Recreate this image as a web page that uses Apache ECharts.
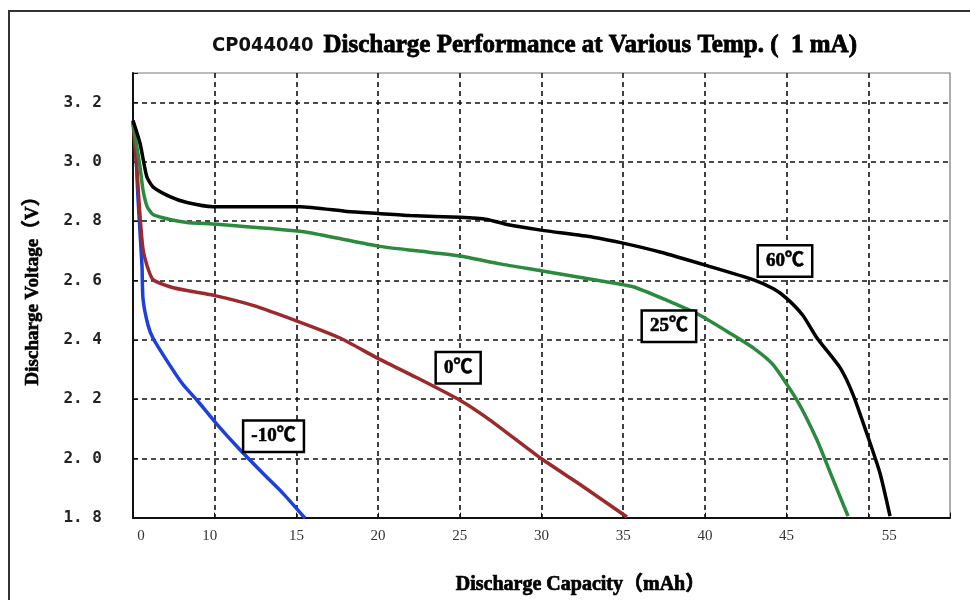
<!DOCTYPE html>
<html>
<head>
<meta charset="utf-8">
<script src="https://cdn.jsdelivr.net/npm/echarts@6/dist/echarts.min.js"></script>
<style>
html,body{margin:0;padding:0;background:#fff;}
#chart{width:970px;height:600px;}
</style>
</head>
<body>
<div id="chart"></div>
<script>
// ---- data ----
const yTicks = [1.8, 2.0, 2.2, 2.4, 2.6, 2.8, 3.0, 3.2];
const xTickText = {5: '0', 10: '10', 15: '15', 20: '20', 25: '25', 30: '30', 35: '35', 40: '40', 45: '45', 50: '55'};

const names = ['60℃', '25℃', '0℃', '-10℃'];

const cap60  = [5.0, 5.43, 5.84, 6.22, 7.26, 8.30, 9.90, 15.22, 18.10, 20.0, 21.95, 25.01, 26.66, 27.89, 29.97, 33.15, 34.99, 37.25, 40.13, 42.94, 44.2, 45.02, 46.0, 46.86, 48.27, 49.06, 49.92, 50.72, 51.33];
const volt60 = [3.14, 3.063, 2.951, 2.916, 2.883, 2.863, 2.849, 2.849, 2.833, 2.826, 2.819, 2.813, 2.806, 2.789, 2.770, 2.746, 2.726, 2.696, 2.650, 2.603, 2.572, 2.539, 2.482, 2.406, 2.306, 2.216, 2.082, 1.949, 1.805];

const cap25  = [5.0, 5.43, 5.61, 5.86, 6.22, 7.26, 8.30, 10.14, 15.22, 17.24, 19.99, 22.38, 25.01, 27.46, 29.97, 33.58, 35.60, 37.68, 39.70, 41.72, 43.0, 44.17, 45.64, 46.86, 47.84, 48.76];
const volt25 = [3.133, 2.983, 2.906, 2.850, 2.823, 2.806, 2.796, 2.790, 2.766, 2.746, 2.716, 2.700, 2.683, 2.656, 2.633, 2.599, 2.579, 2.533, 2.483, 2.416, 2.371, 2.316, 2.196, 2.062, 1.929, 1.805];

const cap0   = [5.0, 5.24, 5.43, 5.61, 5.86, 6.22, 7.26, 8.30, 10.02, 12.34, 15.04, 17.67, 19.93, 22.38, 25.01, 26.85, 29.91, 32.36, 35.23];
const volt0  = [3.133, 2.973, 2.816, 2.706, 2.650, 2.603, 2.579, 2.566, 2.549, 2.516, 2.463, 2.406, 2.339, 2.272, 2.196, 2.129, 2.002, 1.912, 1.802];

const capM10  = [5.0, 5.12, 5.31, 5.55, 5.61, 5.92, 6.22, 7.08, 8.06, 8.92, 10.14, 11.55, 12.96, 14.18, 15.53];
const voltM10 = [3.140, 3.097, 2.873, 2.650, 2.539, 2.449, 2.406, 2.329, 2.249, 2.196, 2.115, 2.029, 1.949, 1.882, 1.798];

// label box anchor points, in data units [capacity, voltage]
const labelPos = [[44.9, 2.666], [37.8, 2.446], [24.9, 2.306], [13.6, 2.075]];

const colors = ['#000000', '#2b8a3e', '#9c2a2c', '#1c3fe0'];

// ---- chart ----
const zip = (a, b) => a.map((v, i) => [v, b[i]]);
const seriesData = [zip(cap60, volt60), zip(cap25, volt25), zip(cap0, volt0), zip(capM10, voltM10)];

const heavySerif = '"Liberation Serif", "Times New Roman", "Noto Sans CJK SC", serif';

const chart = echarts.init(document.getElementById('chart'), null, {renderer: 'canvas'});

const series = seriesData.map((d, i) => ({
  name: names[i],
  type: 'line',
  data: d,
  showSymbol: false,
  smooth: 0.2,
  lineStyle: {color: colors[i], width: 3.5},
  itemStyle: {color: colors[i]},
  z: 5 - i,
  markPoint: {
    symbol: 'circle',
    symbolSize: 1,
    silent: true,
    itemStyle: {color: 'rgba(0,0,0,0)'},
    data: [{coord: labelPos[i], value: names[i]}],
    label: {
      show: true,
      position: 'inside',
      formatter: names[i],
      color: '#000',
      fontFamily: heavySerif,
      fontWeight: 'bold',
      fontSize: 19,
      textBorderColor: '#000',
      textBorderWidth: 0.6,
      backgroundColor: '#fff',
      borderColor: '#000',
      borderWidth: 2.5,
      padding: [6, 7, 4, 7]
    }
  }
}));

const option = {
  backgroundColor: '#fff',
  animation: false,
  title: {
    left: 207,
    top: 28,
    text: '{a|CP044040}  {b|Discharge Performance at Various Temp. (  1 mA)}',
    textStyle: {
      rich: {
        a: {fontFamily: '"DejaVu Sans Condensed", "Liberation Sans Narrow", sans-serif', fontSize: 20, color: '#111', fontWeight: 'bold'},
        b: {fontFamily: heavySerif, fontSize: 25, fontWeight: 'bold', color: '#000', textBorderColor: '#000', textBorderWidth: 0.8}
      }
    }
  },
  graphic: [{
    type: 'rect',
    shape: {x: 9, y: 11, width: 1200, height: 1000},
    style: {fill: 'none', stroke: '#333', lineWidth: 2},
    silent: true,
    z: -1
  }],
  grid: {left: 133, right: 20, top: 73, bottom: 78.5, show: true, borderColor: '#777', borderWidth: 1.2, backgroundColor: '#fff'},
  xAxis: {
    type: 'value',
    min: 5, max: 55, interval: 5,
    name: 'Discharge Capacity（mAh）',
    nameLocation: 'middle',
    nameGap: 57,
    nameTextStyle: {fontFamily: heavySerif, fontWeight: 'bold', fontSize: 20, color: '#000', textBorderColor: '#000', textBorderWidth: 0.7, padding: [0, 0, 0, 78]},
    axisLine: {show: true, onZero: false, lineStyle: {color: '#111', width: 2}},
    axisTick: {show: true, inside: true, length: 5, lineStyle: {color: '#111'}},
    splitLine: {show: true, showMinLine: false, showMaxLine: false, lineStyle: {color: '#111', type: [5, 4], width: 1.6}},
    axisLabel: {
      margin: 11,
      color: '#333',
      fontFamily: heavySerif,
      fontSize: 15,
      formatter: function (v) {
        const t = xTickText[Math.round(v)];
        if (t === undefined) return '';
        if (v === 5) return '{l|' + t + '}';
        if (v === 10) return '{m|' + t + '}';
        if (v === 50) return '{r|' + t + '}';
        return t;
      },
      rich: {
        l: {padding: [0, 0, 0, 16], color: '#333', fontFamily: heavySerif, fontSize: 15},
        m: {padding: [0, 10, 0, 0], color: '#333', fontFamily: heavySerif, fontSize: 15},
        r: {padding: [0, 0, 0, 42], color: '#333', fontFamily: heavySerif, fontSize: 15}
      }
    }
  },
  yAxis: {
    type: 'value',
    min: 1.8, max: 3.3, interval: 0.2,
    name: 'Discharge Voltage（V）',
    nameLocation: 'middle',
    nameGap: 90,
    nameRotate: 90,
    nameTextStyle: {fontFamily: heavySerif, fontWeight: 'bold', fontSize: 19, color: '#000', textBorderColor: '#000', textBorderWidth: 0.6, padding: [0, 0, 0, 18]},
    axisLine: {show: true, lineStyle: {color: '#111', width: 2}},
    axisTick: {show: true, inside: true, length: 5, lineStyle: {color: '#111'}},
    splitLine: {show: true, showMinLine: false, showMaxLine: false, lineStyle: {color: '#111', type: [5, 4], width: 1.6}},
    axisLabel: {
      margin: 31,
      color: '#222',
      fontFamily: '"DejaVu Sans Mono", "Liberation Mono", monospace',
      fontWeight: 'bold',
      fontSize: 16,
      formatter: function (v) {
        const hit = yTicks.some(t => Math.abs(t - v) < 1e-6);
        if (!hit) return '';
        return v.toFixed(1).replace('.', '. ');
      }
    }
  },
  series: series
};

chart.setOption(option);
</script>
</body>
</html>
